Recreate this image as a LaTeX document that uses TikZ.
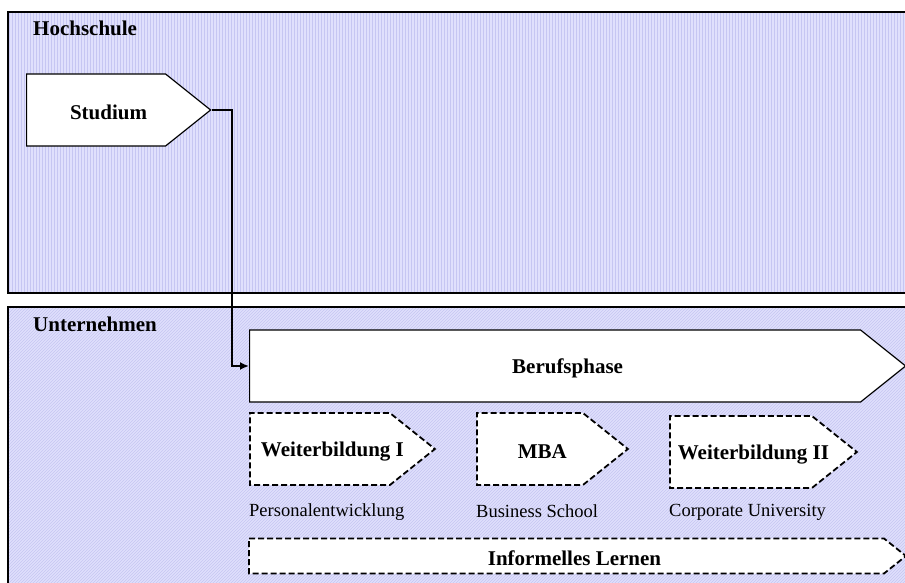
\documentclass[tikz,border=0pt]{standalone}
\usepackage{fontspec}
\setmainfont{Liberation Serif}
\usetikzlibrary{positioning, calc, arrows.meta, shapes.symbols, patterns}

\definecolor{panelfill}{RGB}{224,224,252}
\definecolor{panelline}{RGB}{198,198,242}

% text of a phase, pushed a little to the right of the body centre
\newcommand{\phasetext}[2][25pt]{\makebox[0pt]{\hspace*{#1}\raisebox{-2.5pt}[\height][\depth]{#2}}}

\tikzset{
	panel/.style={fill=panelfill, postaction={pattern=#1, pattern color=panelline},
		postaction={draw, line width=1.4pt}},
	phase/.style={signal, signal to=east, signal pointer angle=77.3, draw, line width=1.2pt,
		fill=white, anchor=west, minimum height=72pt, inner sep=0pt,
		font=\fontsize{21}{25}\selectfont\bfseries},
	option/.style={phase, dash pattern=on 6pt off 3pt, line width=1.8pt},
	sublabel/.style={anchor=west, inner sep=0pt, font=\fontsize{18.5}{22}\selectfont},
	arealabel/.style={anchor=base west, inner sep=0pt, font=\fontsize{21}{25}\selectfont\bfseries}
}

\begin{document}
\begin{tikzpicture}[x=1pt, y=-1pt]
\useasboundingbox (0, 0) rectangle (905, 583);
\clip (0, 0) rectangle (905, 583);
% areas
\path[panel=vertical lines] (8, 12) rectangle (915, 293);
\path[panel=north east lines] (8, 307) rectangle (915, 600);
\node[arealabel] (hs) at (33, 36) {Hochschule};
\node[arealabel] (un) at (33, 331) {Unternehmen};

% phases
\node[phase, minimum width=184pt] (studium) at (26, 110) {\phasetext{Studium}};
\node[phase, minimum width=656pt] (beruf) at (249, 366) {\phasetext{Berufsphase}};
\node[option, minimum width=185pt] (wb1) at (249, 449) {\phasetext{Weiterbildung I}};
\node[option, minimum width=151pt] (mba) at (476, 449) {\phasetext{MBA}};
\node[option, minimum width=187pt] (wb2) at (669, 452) {\phasetext{Weiterbildung II}};
\node[option, minimum width=657pt, minimum height=35pt] (inf) at (248, 556) {\phasetext[16pt]{Informelles Lernen}};

\node[sublabel] (pe) at ([yshift=-26pt]wb1.south west) {Personalentwicklung};
\node[sublabel] (bs) at ([yshift=-25pt]mba.south west) {Business School};
\node[sublabel] (cu) at ([yshift=-23pt]wb2.south west) {Corporate University};

\draw[line width=2pt, -{Latex[length=9pt, width=8pt]}] (studium.east) -- ++(20, 0) |- (beruf.west);
\end{tikzpicture}
\end{document}
